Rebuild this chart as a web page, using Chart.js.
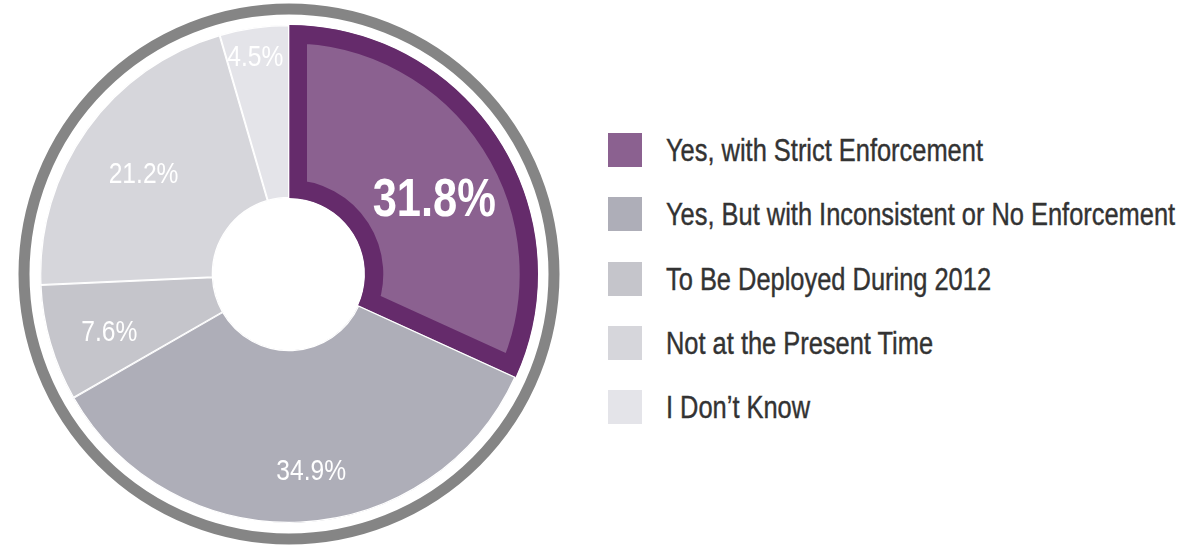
<!DOCTYPE html>
<html>
<head>
<meta charset="utf-8">
<script src="https://cdn.jsdelivr.net/npm/chart.js@4.4.1/dist/chart.umd.min.js"></script>
<style>
  body { margin: 0; background: #fff; }
  #wrap { position: relative; width: 1195px; height: 548px; overflow: hidden; }
  #pieChart { position: absolute; left: 0; top: 0; }
  #legend { position: absolute; left: 608px; top: 133px; margin: 0; padding: 0; list-style: none;
    font-family: 'Liberation Sans', Arial, sans-serif;
    font-size: 31px; color: #333; }
  #legend li { height: 64.3px; display: flex; align-items: flex-start; white-space: nowrap; }
  #legend .box { width: 34px; height: 34px; margin-right: 24px; flex: none; }
  #legend .txt { line-height: 36px; display: inline-block; transform: scaleX(0.82); transform-origin: 0 50%;
    -webkit-text-stroke: 0.4px #333; }
</style>
</head>
<body>
<div id="wrap">
  <canvas id="pieChart" width="578" height="548"></canvas>
  <ul id="legend"></ul>
</div>
<script>
// Data (percent of respondents)
const categories = [
  'Yes, with Strict Enforcement',
  'Yes, But with Inconsistent or No Enforcement',
  'To Be Deployed During 2012',
  'Not at the Present Time',
  'I Don\u2019t Know'
];
const shares = [31.8, 34.9, 7.6, 21.2, 4.5];
const sliceLabels = ['31.8%', '34.9%', '7.6%', '21.2%', '4.5%'];

const fills = ['#8b6190', '#aeaeb8', '#c5c5cb', '#d6d6db', '#e4e4e9'];
const edges = ['#652b6b', '#ffffff', '#ffffff', '#ffffff', '#ffffff'];
const edgeWidths = [18, 1, 1, 1, 1];

const sans = "'Liberation Sans', Arial, sans-serif";
const squeeze = 0.82; // condensed look

// grey ring round the pie
const outerRing = {
  id: 'outerRing',
  beforeDatasetsDraw(chart) {
    const arc = chart.getDatasetMeta(0).data[0];
    if (!arc) return;
    const { ctx } = chart;
    ctx.save();
    ctx.strokeStyle = '#858585';
    ctx.lineWidth = 11;
    ctx.beginPath();
    ctx.arc(arc.x, arc.y, arc.outerRadius + 16, 0, Math.PI * 2);
    ctx.stroke();
    ctx.restore();
  }
};

// percent labels inside the slices
const sliceText = {
  id: 'sliceText',
  afterDatasetsDraw(chart, args, opts) {
    const { ctx } = chart;
    const meta = chart.getDatasetMeta(0);
    meta.data.forEach((arc, i) => {
      const p = arc.getProps(['x', 'y', 'startAngle', 'endAngle', 'outerRadius'], true);
      const a = p.startAngle + (p.endAngle - p.startAngle) * opts.along[i];
      const r = p.outerRadius * opts.radius[i];
      ctx.save();
      ctx.translate(p.x + r * Math.cos(a), p.y + r * Math.sin(a) + 2);
      ctx.scale(squeeze, 1);
      ctx.textAlign = 'center';
      ctx.textBaseline = 'middle';
      ctx.fillStyle = '#ffffff';
      ctx.font = (i === 0 ? 'bold 53px ' : '30px ') + sans;
      ctx.fillText(sliceLabels[i], 0, 0);
      ctx.restore();
    });
  }
};

const ctx = document.getElementById('pieChart').getContext('2d');
new Chart(ctx, {
  type: 'doughnut',
  data: {
    labels: categories,
    datasets: [{
      data: shares,
      backgroundColor: fills,
      borderColor: edges,
      borderWidth: edgeWidths,
      borderAlign: 'inner',
      borderJoinStyle: 'miter'
    }]
  },
  options: {
    responsive: false,
    animation: false,
    events: [],
    cutout: '30.5%',
    layout: { padding: 25 },
    plugins: {
      legend: { display: false },
      tooltip: { enabled: false },
      sliceText: {
        along: [0.55, 0.47, 0.45, 0.49, 0.46],
        radius: [0.655, 0.79, 0.757, 0.712, 0.888]
      }
    }
  },
  plugins: [outerRing, sliceText]
});

// legend on the right
const legend = document.getElementById('legend');
categories.forEach((name, i) => {
  const li = document.createElement('li');
  li.innerHTML = '<span class="box" style="background:' + fills[i] + '"></span><span class="txt"></span>';
  li.querySelector('.txt').textContent = name;
  legend.appendChild(li);
});
</script>
</body>
</html>
